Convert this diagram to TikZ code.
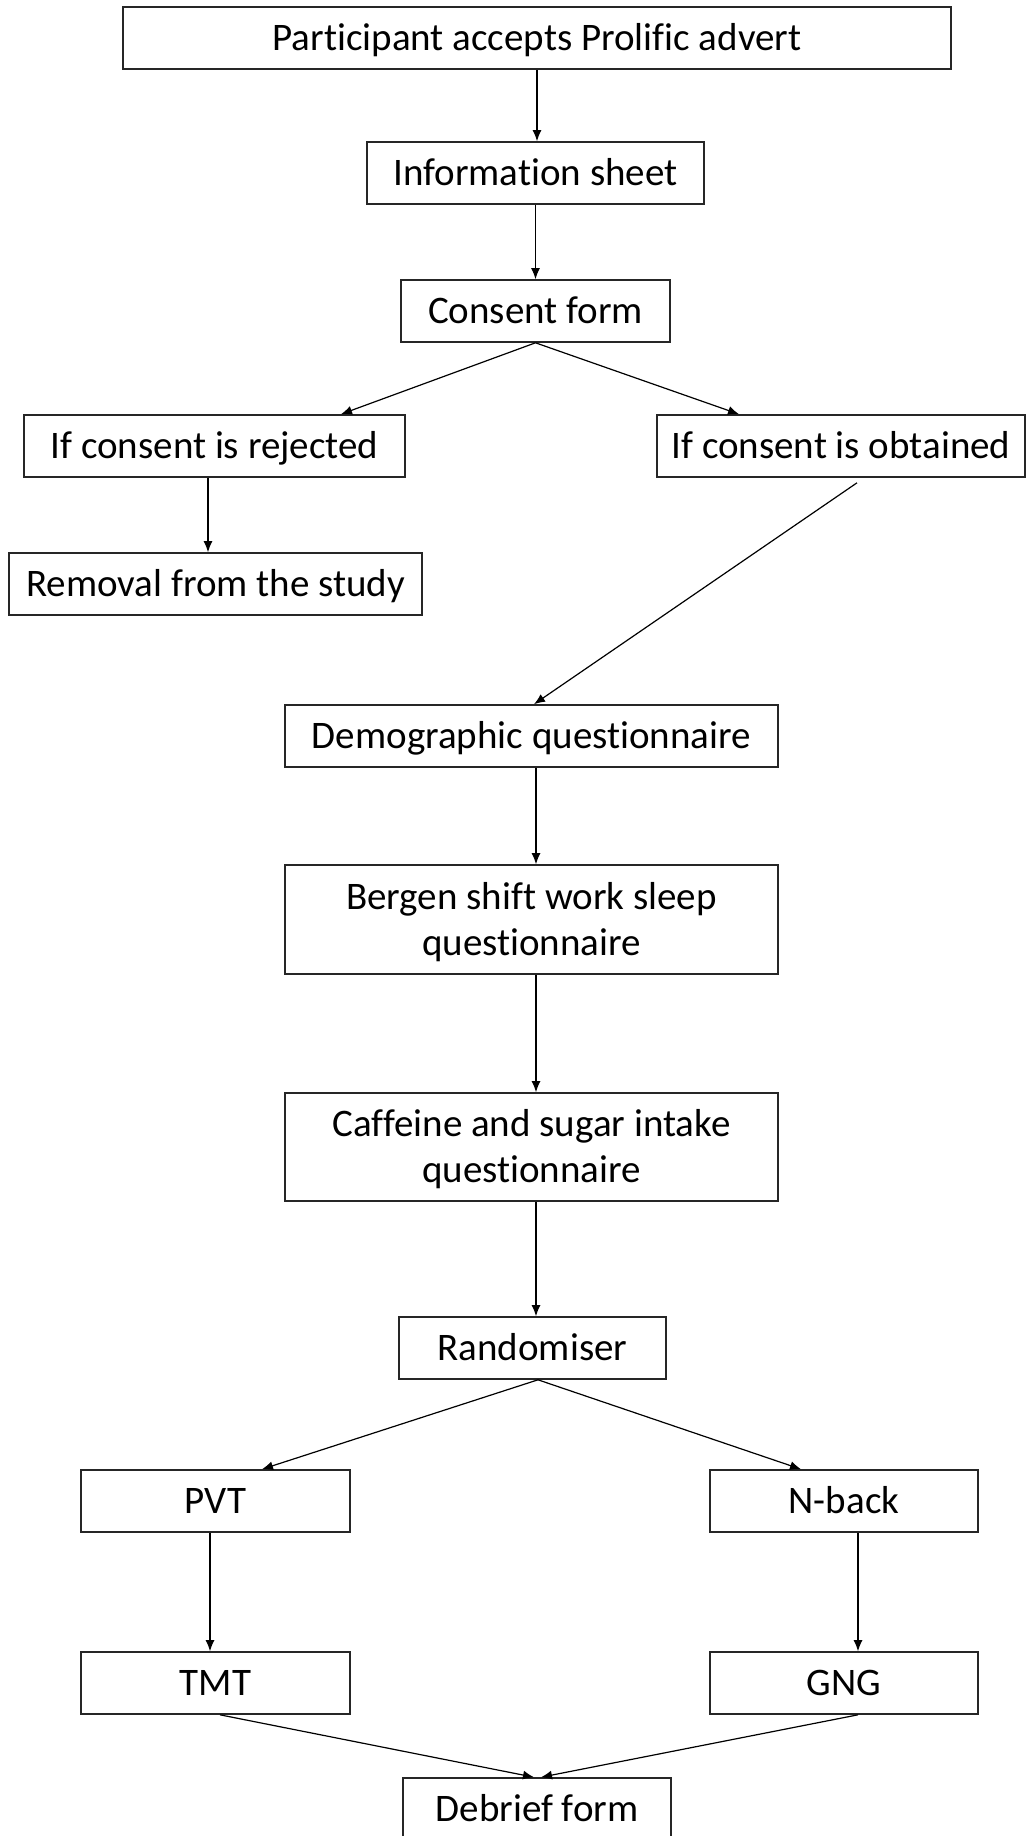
\documentclass[tikz,border=0pt]{standalone}
\usepackage{fontspec}
\setmainfont[Ligatures=NoCommon]{Carlito}
\usetikzlibrary{arrows.meta}
\begin{document}
\begin{tikzpicture}[x=1pt,y=-1pt,
  box/.style={draw=black!85, line width=1.6pt, inner sep=0pt, align=center,
    font=\fontsize{39}{46}\selectfont, text height=25pt, text depth=0pt},
  tall/.style={box, text height=71pt},
  link/.style={draw=black, line width=1.2pt, -{Latex[length=11pt,width=9pt]}}]
\useasboundingbox (0,0) rectangle (1028,1836);
\clip (0,0) rectangle (1028,1836);

% boxes
\node[box, minimum width=828pt, minimum height=62pt] (top)  at (537,38)    {Participant accepts Prolific advert};
\node[box, minimum width=337pt, minimum height=62pt] (info) at (535.5,173) {Information sheet};
\node[box, minimum width=269pt, minimum height=62pt] (cons) at (535.5,311) {Consent form};
\node[box, minimum width=381pt, minimum height=62pt] (rej)  at (214.5,446) {If consent is rejected};
\node[box, minimum width=368pt, minimum height=62pt] (obt)  at (841,446)   {If consent is obtained};
\node[box, minimum width=413pt, minimum height=62pt] (rem)  at (215.5,584) {Removal from the study};
\node[box, minimum width=493pt, minimum height=62pt] (demo) at (531.5,736) {Demographic questionnaire};
\node[tall, minimum width=493pt, minimum height=109pt] (berg) at (531.5,919.5) {Bergen shift work sleep\\questionnaire};
\node[tall, minimum width=493pt, minimum height=108pt] (caff) at (531.5,1147) {Caffeine and sugar intake\\questionnaire};
\node[box, minimum width=267pt, minimum height=62pt] (rand) at (532.5,1348) {Randomiser};
\node[box, minimum width=269pt, minimum height=62pt] (pvt)  at (215.5,1501) {PVT};
\node[box, minimum width=268pt, minimum height=62pt] (nback) at (844,1501)  {N-back};
\node[box, minimum width=269pt, minimum height=62pt] (tmt)  at (215.5,1683) {TMT};
\node[box, minimum width=268pt, minimum height=62pt] (gng)  at (844,1683)   {GNG};
\node[box, minimum width=268pt, minimum height=62pt] (deb)  at (537,1809)   {Debrief form};

% connectors
\draw[link] (top.south) -- (top.south |- info.north);
\draw[link] (info.south) -- (info.south |- cons.north);
\draw[link] (cons.south) -- ([xshift=126.5pt]rej.north);
\draw[link] (cons.south) -- ([xshift=-102pt]obt.north);
\draw[link] ([xshift=-6.5pt]rej.south) -- ([xshift=-7.5pt]rem.north);
\draw[link] ([xshift=16pt,yshift=-5pt]obt.south) -- ([xshift=2.5pt]demo.north);
\draw[link] ([xshift=4.5pt]demo.south) -- ([xshift=4.5pt]berg.north);
\draw[link] ([xshift=4.5pt]berg.south) -- ([xshift=4.5pt]caff.north);
\draw[link] ([xshift=4.5pt]caff.south) -- ([xshift=3.5pt]rand.north);
\draw[link] ([xshift=5.5pt]rand.south) -- ([xshift=46.5pt]pvt.north);
\draw[link] ([xshift=5.5pt]rand.south) -- ([xshift=-43pt]nback.north);
\draw[link] ([xshift=-5.5pt]pvt.south) -- ([xshift=-5.5pt]tmt.north);
\draw[link] ([xshift=14pt]nback.south) -- ([xshift=14pt]gng.north);
\draw[link] ([xshift=4.5pt]tmt.south) -- ([xshift=-3pt]deb.north);
\draw[link] ([xshift=14pt]gng.south) -- ([xshift=4pt]deb.north);
\end{tikzpicture}
\end{document}
